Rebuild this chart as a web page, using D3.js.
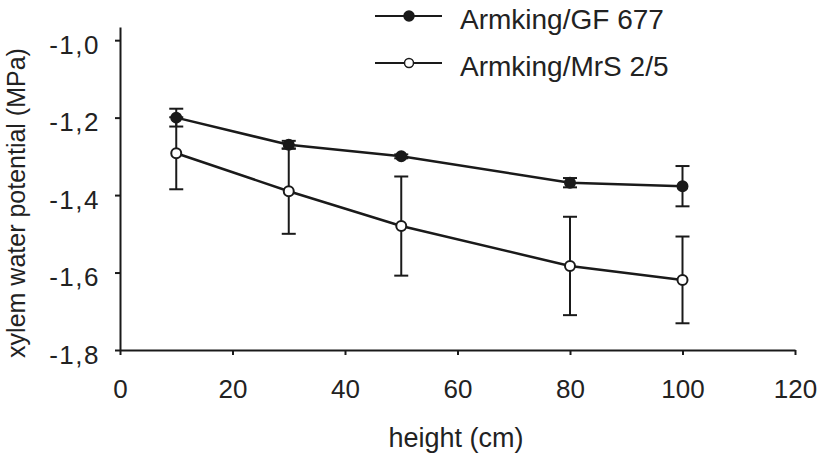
<!DOCTYPE html>
<html>
<head>
<meta charset="utf-8">
<script src="https://cdn.jsdelivr.net/npm/d3@7"></script>
<style>
    body { margin: 0; background: #fff; }
    svg { display: block; font-family: "Liberation Sans", Arial, sans-serif; }
</style>
</head>
<body>
<div id="chart"></div>
<script>
(function () {
    const width = 818;
    const height = 458;

    const heights = [10, 30, 50, 80, 100];
    const xTicks = [0, 20, 40, 60, 80, 100, 120];
    const yTicks = [-1.8, -1.6, -1.4, -1.2, -1.0];

    const seriesNames = ["Armking/GF 677", "Armking/MrS 2/5"];
    const gfMean = [-1.20, -1.27, -1.30, -1.368, -1.377];
    const gfErr = [0.023, 0.01, 0.005, 0.012, 0.052];
    const mrsMean = [-1.292, -1.39, -1.48, -1.583, -1.619];
    const mrsErr = [0.093, 0.11, 0.128, 0.127, 0.112];

    const ink = "#1a1a1a";

    const svg = d3.select("#chart")
        .append("svg")
        .attr("width", width)
        .attr("height", height);

    const x = d3.scaleLinear().domain([0, 120]).range([120, 795]);
    const y = d3.scaleLinear().domain([-1.8, -0.966]).range([350, 27]);

    const fmt = d => d.toFixed(1).replace(".", ",");

    // y axis
    const yAxis = svg.append("g")
        .attr("transform", `translate(${x(0)},0)`)
        .call(d3.axisLeft(y).tickValues(yTicks).tickFormat(fmt)
            .tickSize(5).tickPadding(15).tickSizeOuter(0));
    yAxis.select(".domain").attr("stroke", ink).attr("stroke-width", 2);
    yAxis.selectAll(".tick line").attr("stroke", ink).attr("stroke-width", 2);
    yAxis.selectAll(".tick text")
        .attr("fill", "#222")
        .attr("dy", "0.5em")
        .style("font-size", "26px")
        .style("letter-spacing", "1.5px");

    // x axis
    const xAxis = svg.append("g")
        .attr("transform", `translate(0,${y(-1.8)})`)
        .call(d3.axisBottom(x).tickValues(xTicks)
            .tickSize(5).tickPadding(25).tickSizeOuter(0));
    xAxis.select(".domain").attr("stroke", ink).attr("stroke-width", 2);
    xAxis.selectAll(".tick line").attr("stroke", ink).attr("stroke-width", 2);
    xAxis.selectAll(".tick text")
        .attr("fill", "#222")
        .style("font-size", "26px");

    // axis titles
    svg.append("text")
        .attr("x", 456)
        .attr("y", 447)
        .attr("text-anchor", "middle")
        .attr("fill", "#222")
        .style("font-size", "27px")
        .text("height (cm)");

    svg.append("text")
        .attr("transform", "translate(25,203) rotate(-90)")
        .attr("text-anchor", "middle")
        .attr("fill", "#222")
        .style("font-size", "25px")
        .text("xylem water potential (MPa)");

    const series = [
        { name: seriesNames[0], mean: gfMean, err: gfErr, fill: ink },
        { name: seriesNames[1], mean: mrsMean, err: mrsErr, fill: "#fff" }
    ];

    const line = d3.line()
        .x(d => x(d.h))
        .y(d => y(d.m));

    const capW = 7;

    // draw the open series first so the filled markers sit on top
    series.slice().reverse().forEach(s => {
        const pts = heights.map((h, i) => ({ h: h, m: s.mean[i], e: s.err[i] }));
        const g = svg.append("g");

        g.append("path")
            .datum(pts)
            .attr("d", line)
            .attr("fill", "none")
            .attr("stroke", ink)
            .attr("stroke-width", 2.5);

        const bars = g.selectAll(".err")
            .data(pts)
            .enter().append("g");
        bars.append("line")
            .attr("x1", d => x(d.h)).attr("x2", d => x(d.h))
            .attr("y1", d => y(d.m + d.e)).attr("y2", d => y(d.m - d.e))
            .attr("stroke", ink).attr("stroke-width", 2);
        bars.append("line")
            .attr("x1", d => x(d.h) - capW).attr("x2", d => x(d.h) + capW)
            .attr("y1", d => y(d.m + d.e)).attr("y2", d => y(d.m + d.e))
            .attr("stroke", ink).attr("stroke-width", 2);
        bars.append("line")
            .attr("x1", d => x(d.h) - capW).attr("x2", d => x(d.h) + capW)
            .attr("y1", d => y(d.m - d.e)).attr("y2", d => y(d.m - d.e))
            .attr("stroke", ink).attr("stroke-width", 2);

        g.selectAll("circle")
            .data(pts)
            .enter().append("circle")
            .attr("cx", d => x(d.h))
            .attr("cy", d => y(d.m))
            .attr("r", 5)
            .attr("fill", s.fill)
            .attr("stroke", ink)
            .attr("stroke-width", 2);
    });

    // legend
    const legend = svg.append("g");
    series.forEach((s, i) => {
        const ly = 16 + i * 47;
        legend.append("line")
            .attr("x1", 375).attr("x2", 442)
            .attr("y1", ly).attr("y2", ly)
            .attr("stroke", ink).attr("stroke-width", 2);
        legend.append("circle")
            .attr("cx", 409).attr("cy", ly)
            .attr("r", i === 0 ? 5 : 4.5)
            .attr("fill", s.fill)
            .attr("stroke", ink)
            .attr("stroke-width", 1.5);
        legend.append("text")
            .attr("x", 460)
            .attr("y", ly + 13)
            .attr("fill", "#222")
            .style("font-size", "28px")
            .text(s.name);
    });
})();
</script>
</body>
</html>
